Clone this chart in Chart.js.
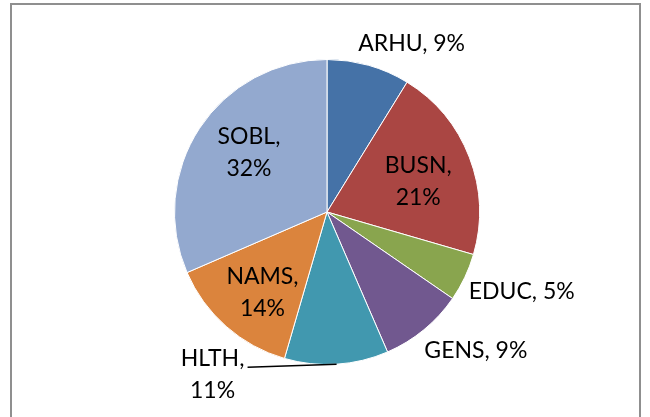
<!DOCTYPE html>
<html>
<head>
<meta charset="utf-8">
<script src="https://cdn.jsdelivr.net/npm/chart.js@4.4.0/dist/chart.umd.min.js"></script>
<style>
  body { margin: 0; background: #fff; }
  #wrap { position: relative; width: 650px; height: 417px; }
  #frame { position: absolute; left: 10px; top: 3px; width: 631px; height: 420px;
           border: 2px solid #8f8f8f; border-bottom: none; box-sizing: border-box; }
  canvas { position: absolute; left: 0; top: 0; }
</style>
</head>
<body>
<div id="wrap">
  <div id="frame"></div>
  <canvas id="myChart" width="650" height="417"></canvas>
</div>
<script>
const colleges = ["ARHU", "BUSN", "EDUC", "GENS", "HLTH", "NAMS", "SOBL"];
const shares = [8.8, 20.7, 5.1, 8.9, 11.0, 14.0, 31.5];
const pctLabels = ["9%", "21%", "5%", "9%", "11%", "14%", "32%"];
const sliceColors = ["#4572A7", "#AA4643", "#89A54E", "#71588F", "#4198AF", "#DB843D", "#93A9CF"];

// where each label goes: radius factor along the slice middle, then a nudge
const labelSpots = [
  { f: 1, dx: 43, dy: -22, lines: 1 },
  { f: 0.62, dx: 3, dy: 4, lines: 2 },
  { f: 1, dx: 57, dy: 14, lines: 1 },
  { f: 1, dx: 52, dy: 21, lines: 1 },
  { f: 1, dx: -124, dy: 10, lines: 2, leader: true },
  { f: 0.62, dx: -2, dy: 10, lines: 2 },
  { f: 0.62, dx: 1, dy: -8, lines: 2 }
];

const pieLabels = {
  id: 'pieLabels',
  afterDatasetsDraw(chart) {
    const ctx = chart.ctx;
    const arcs = chart.getDatasetMeta(0).data;
    ctx.save();
    ctx.font = '23px Lato';
    ctx.fillStyle = '#000';
    ctx.textAlign = 'center';
    ctx.textBaseline = 'middle';
    arcs.forEach(function(arc, i) {
      const p = arc.getProps(['x', 'y', 'startAngle', 'endAngle', 'outerRadius'], true);
      const mid = (p.startAngle + p.endAngle) / 2;
      const s = labelSpots[i];
      const ax = p.x + Math.cos(mid) * p.outerRadius * s.f;
      const ay = p.y + Math.sin(mid) * p.outerRadius * s.f;
      const cx = ax + s.dx;
      const cy = ay + s.dy;
      if (s.leader) {
        ctx.strokeStyle = '#000';
        ctx.lineWidth = 1.5;
        ctx.beginPath();
        ctx.moveTo(ax, ay);
        ctx.lineTo(cx + 35, cy - 7);
        ctx.stroke();
      }
      if (s.lines == 2) {
        ctx.fillText(colleges[i] + ',', cx, cy - 16);
        ctx.fillText(pctLabels[i], cx, cy + 16);
      } else {
        ctx.fillText(colleges[i] + ', ' + pctLabels[i], cx, cy);
      }
    });
    ctx.restore();
  }
};

new Chart("myChart", {
  type: "pie",
  data: {
    labels: colleges,
    datasets: [{
      data: shares,
      backgroundColor: sliceColors,
      borderColor: '#fff',
      borderWidth: 1
    }]
  },
  options: {
    responsive: false,
    animation: false,
    layout: { padding: { left: 174, right: 170, top: 59, bottom: 52 } },
    plugins: {
      legend: { display: false },
      tooltip: { enabled: false }
    }
  },
  plugins: [pieLabels]
});
</script>
</body>
</html>
